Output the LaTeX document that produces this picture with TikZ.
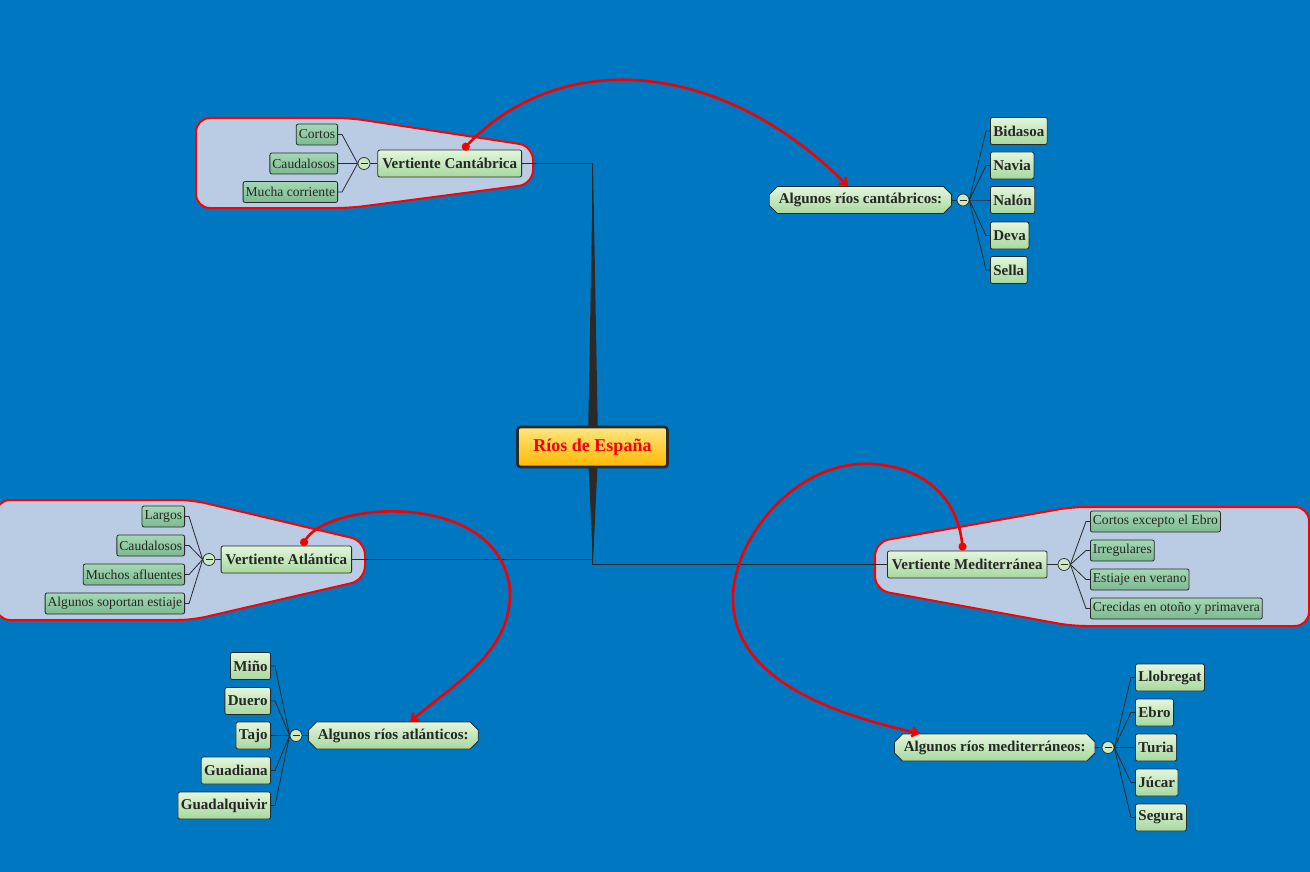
\documentclass[tikz,border=0pt]{standalone}
\usepackage{fontspec}
\setmainfont{Liberation Serif}
\usetikzlibrary{shapes.misc,arrows.meta,calc}
\definecolor{bgblue}{HTML}{0078C1}
\definecolor{boundfill}{HTML}{B9CCE4}
\definecolor{topictop}{HTML}{E4F6DC}
\definecolor{topicbot}{HTML}{A6D89E}
\definecolor{leaftop}{HTML}{A4D8B4}
\definecolor{leafbot}{HTML}{7CBA90}
\definecolor{edgegray}{HTML}{2A2A2A}
\definecolor{centtop}{HTML}{FFE680}
\definecolor{centbot}{HTML}{FFB800}
\definecolor{relred}{HTML}{F40000}
\begin{document}
\begin{tikzpicture}[x=1pt,y=-1pt,
  topic/.style={draw=edgegray, line width=0.8pt, rounded corners=2pt, top color=topictop, bottom color=topicbot,
    font=\fontsize{15}{17}\selectfont\bfseries, text=black!85, minimum height=27pt, inner xsep=4.5pt, inner ysep=2pt},
  octo/.style={chamfered rectangle, chamfered rectangle xsep=5pt, draw=edgegray, line width=0.8pt, top color=topictop, bottom color=topicbot,
    font=\fontsize{15}{17}\selectfont\bfseries, text=black!85, minimum height=27pt, inner xsep=4.5pt, inner ysep=2pt},
  river/.style={topic, inner xsep=3pt},
  leaf/.style={draw=edgegray, line width=0.8pt, rounded corners=2pt, top color=leaftop, bottom color=leafbot,
    font=\fontsize{13.6}{15}\selectfont, text=black!85, minimum height=21pt, inner xsep=2.5pt, inner ysep=1pt},
  coll/.style={circle, draw=edgegray, line width=0.7pt, fill=topictop!60!topicbot, minimum size=12pt, inner sep=0pt,
    path picture={\draw[edgegray, line width=0.8pt] ([xshift=-3.5pt]path picture bounding box.center) -- ([xshift=3.5pt]path picture bounding box.center);}},
  center/.style={draw=edgegray, line width=2.6pt, rounded corners=3pt, top color=centtop, bottom color=centbot,
    font=\fontsize{18}{20}\selectfont\bfseries, text=relred, minimum width=150pt, minimum height=40pt},
  bound/.style={fill=boundfill, draw=red, line width=2pt, rounded corners=14pt},
  conn/.style={draw=edgegray, line width=0.8pt},
  rel/.style={draw=relred, line width=2.6pt, {Circle[length=8pt]}-{Straight Barb[length=6pt,width=9pt]}}
]
\useasboundingbox (0,0) rectangle (1310,872);
\fill[bgblue] (0,0) rectangle (1310,872);

% boundaries
\draw[bound] (196,118) -- (350,118) -- (533,146) -- (533,184) -- (350,208) -- (196,208) -- cycle;
\draw[bound] (-4,500) -- (192,500) -- (365,541) -- (365,580) -- (192,620) -- (-4,620) -- cycle;
\draw[bound] (875,542) -- (1072,507) -- (1309,507) -- (1309,626) -- (1072,626) -- (875,590) -- cycle;

% spine
\fill[edgegray] (588,440) -- (593,163) -- (598,440) -- cycle;
\fill[edgegray] (588,455) -- (593,563) -- (598,455) -- cycle;

% central
\node[center] (c) at (592.5,447) {Ríos de España};

% topics
\node[topic, anchor=east] (vc) at (522,163.5) {Vertiente Cantábrica};
\node[topic, anchor=east] (va) at (352,559.5) {Vertiente Atlántica};
\node[topic, anchor=west] (vm) at (887,564.5) {Vertiente Mediterránea};

\draw[conn] (vc.east) -| (c.north);
\draw[conn] (va.east) -| (c.south);
\draw[conn] (vm.west) -| (c.south);

% Cantabrica details
\node[coll] (cvc) at (364,163.5) {};
\draw[conn] (vc.west) -- (cvc.east);
\node[leaf, anchor=east] (l1) at (338,134.5) {Cortos};
\node[leaf, anchor=east] (l2) at (338,163.5) {Caudalosos};
\node[leaf, anchor=east] (l3) at (338,192) {Mucha corriente};
\foreach \n in {l1,l2,l3} \draw[conn] (cvc.west) -- ([xshift=4pt]\n.east) -- (\n.east);

% Atlantica details
\node[coll] (cva) at (209,559.5) {};
\draw[conn] (va.west) -- (cva.east);
\node[leaf, anchor=east] (a1) at (185,516.5) {Largos};
\node[leaf, anchor=east] (a2) at (185,545.5) {Caudalosos};
\node[leaf, anchor=east] (a3) at (185,574.5) {Muchos afluentes};
\node[leaf, anchor=east] (a4) at (185,603.5) {Algunos soportan estiaje};
\foreach \n in {a1,a2,a3,a4} \draw[conn] (cva.west) -- ([xshift=4pt]\n.east) -- (\n.east);

% Mediterranea details
\node[coll] (cvm) at (1064,564.5) {};
\draw[conn] (vm.east) -- (cvm.west);
\node[leaf, anchor=west] (m1) at (1090,521.5) {Cortos excepto el Ebro};
\node[leaf, anchor=west] (m2) at (1090,550.5) {Irregulares};
\node[leaf, anchor=west] (m3) at (1090,579.5) {Estiaje en verano};
\node[leaf, anchor=west] (m4) at (1090,608.5) {Crecidas en otoño y primavera};
\foreach \n in {m1,m2,m3,m4} \draw[conn] (cvm.east) -- ([xshift=-4pt]\n.west) -- (\n.west);

% Algunos rios cantabricos
\node[octo, anchor=east] (rc) at (952,200) {Algunos ríos cantábricos:};
\node[coll] (crc) at (963,200) {};
\draw[conn] (rc.east) -- (crc.west);
\node[river, anchor=west] (r1) at (990,131) {Bidasoa};
\node[river, anchor=west] (r2) at (990,165.5) {Navia};
\node[river, anchor=west] (r3) at (990,200) {Nalón};
\node[river, anchor=west] (r4) at (990,235.5) {Deva};
\node[river, anchor=west] (r5) at (990,270) {Sella};
\foreach \n in {r1,r2,r3,r4,r5} \draw[conn] (crc.east) -- ([xshift=-4pt]\n.west) -- (\n.west);

% Algunos rios atlanticos
\node[octo, anchor=west] (ra) at (308,735.5) {Algunos ríos atlánticos:};
\node[coll] (cra) at (296,735.5) {};
\draw[conn] (ra.west) -- (cra.east);
\node[river, anchor=east] (t1) at (271,666) {Miño};
\node[river, anchor=east] (t2) at (271,701) {Duero};
\node[river, anchor=east] (t3) at (271,735.5) {Tajo};
\node[river, anchor=east] (t4) at (271,770.5) {Guadiana};
\node[river, anchor=east] (t5) at (271,805.5) {Guadalquivir};
\foreach \n in {t1,t2,t3,t4,t5} \draw[conn] (cra.west) -- ([xshift=4pt]\n.east) -- (\n.east);

% Algunos rios mediterraneos
\node[octo, anchor=west] (rm) at (894,747.5) {Algunos ríos mediterráneos:};
\node[coll] (crm) at (1108,747.5) {};
\draw[conn] (rm.east) -- (crm.west);
\node[river, anchor=west] (s1) at (1135,677.5) {Llobregat};
\node[river, anchor=west] (s2) at (1135,712.5) {Ebro};
\node[river, anchor=west] (s3) at (1135,747.5) {Turia};
\node[river, anchor=west] (s4) at (1135,782.5) {Júcar};
\node[river, anchor=west] (s5) at (1135,817.5) {Segura};
\foreach \n in {s1,s2,s3,s4,s5} \draw[conn] (crm.east) -- ([xshift=-4pt]\n.west) -- (\n.west);

% relationship arrows
\coordinate (p1s) at (vc.north -| 463,0);
\coordinate (p1e) at (rc.north -| 848,0);
\draw[rel] (p1s) .. controls (560,48) and (720,58) .. (p1e);

\coordinate (p2s) at (va.north -| 302,0);
\coordinate (p2e) at (ra.north -| 410,0);
\draw[rel] (p2s) .. controls (330,500) and (500,490) .. (510,590) .. controls (512,650) and (460,680) .. (p2e);

\coordinate (p3s) at (vm.north -| 963,0);
\coordinate (p3e) at (rm.north -| 920,0);
\draw[rel] (p3s) .. controls (955,480) and (900,462) .. (860,464) .. controls (790,468) and (735,540) .. (733,595) .. controls (731,660) and (790,705) .. (p3e);
\end{tikzpicture}
\end{document}
